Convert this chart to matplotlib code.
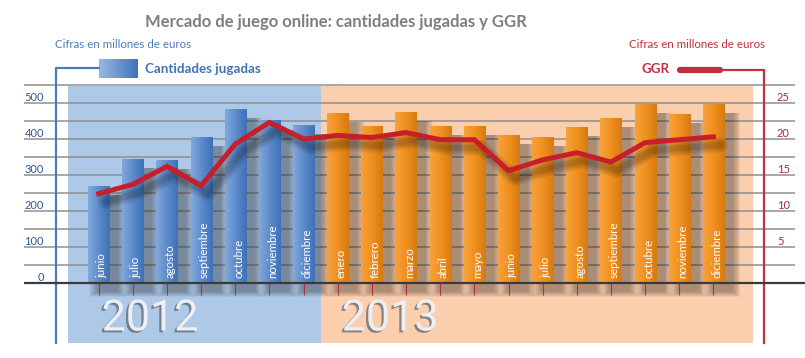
import matplotlib
matplotlib.use('Agg')
import matplotlib.pyplot as plt
import numpy as np
from matplotlib.colors import LinearSegmentedColormap
from matplotlib.patches import Rectangle
import matplotlib.patheffects as pe

plt.rcParams['font.family'] = ['Lato', 'DejaVu Sans']

meses = ['junio', 'julio', 'agosto', 'septiembre', 'octubre', 'noviembre', 'diciembre',
         'enero', 'febrero', 'marzo', 'abril', 'mayo', 'junio', 'julio', 'agosto',
         'septiembre', 'octubre', 'noviembre', 'diciembre']
anios = ['2012', '2013']
n_2012 = 7
cantidades = [269, 344, 341, 405, 481, 450, 437,
              470, 436, 473, 436, 434, 411, 404, 431, 458, 495, 468, 496]
ggr = [12.4, 13.7, 16.2, 13.5, 19.3, 22.3, 20.0,
       20.5, 20.2, 20.9, 19.9, 19.9, 15.6, 17.1, 18.1, 16.8, 19.5, 19.9, 20.3]
ticks_izq = [0, 100, 200, 300, 400, 500]
ticks_der = [5, 10, 15, 20, 25]

azul = '#3f73b8'
rojo = '#c0303e'
gris_titulo = '#7f7f7f'

fig = plt.figure(figsize=(8.05, 3.58), dpi=100)
ax = fig.add_axes([0, 0, 1, 1])
ax.set_axis_off()

# pixel -> datos
px = lambda p: (p - 98.7) / 34.15
py = lambda p: (283 - p) * 50 / 18

x = np.arange(len(cantidades))
w = 0.62

# paneles de fondo
ax.add_patch(Rectangle((px(68), py(343)), px(321) - px(68), py(86) - py(343),
                       color='#aec9e8', lw=0, zorder=0))
ax.add_patch(Rectangle((px(321), py(343)), px(753) - px(321), py(86) - py(343),
                       color='#fbcfae', lw=0, zorder=0))

# rejilla
ax.hlines(np.arange(50, 551, 50), px(24), px(795), color='#8f8f8f', lw=1.1, zorder=1)
ax.hlines(0, px(24), px(805), color='#3a3a3a', lw=1.6, zorder=6)
ax.vlines(x, py(295), 0, color='#b03040', lw=0.8, zorder=6)

for t in ticks_izq:
    ax.text(px(44), t + 16, str(t), ha='right', va='center', fontsize=8, color='#2d5a96')
for t in ticks_der:
    ax.text(px(777), t * 20 + 16, str(t), ha='left', va='center', fontsize=8, color='#b02a3a')

# sombras de barras (difuminadas)
for xi, v in zip(x, cantidades):
    for e in np.linspace(0.0, 0.22, 9):
        ax.add_patch(Rectangle((xi - w / 2 + 0.26 - e, -24 - e * 70), w + 2 * e, v + e * 70,
                               color='black', alpha=0.04, lw=0, zorder=2))

cmap_azul = LinearSegmentedColormap.from_list('az', ['#82a9dc', '#5d8acb', '#3f71b8'])
cmap_nar = LinearSegmentedColormap.from_list('na', ['#f7a23c', '#f0901f', '#d67a12'])
grad = np.linspace(0, 1, 64).reshape(1, -1)
for i, (xi, v) in enumerate(zip(x, cantidades)):
    cm = cmap_azul if i < n_2012 else cmap_nar
    ax.imshow(grad, extent=[xi - w / 2, xi + w / 2, 0, v], aspect='auto', cmap=cm,
              zorder=3, interpolation='bilinear')
    ax.text(xi + 0.1, 14, meses[i], rotation=90, ha='center', va='bottom',
            fontsize=8.3, color='white', zorder=4)

# años
for xc, a in zip([px(150), px(390)], anios):
    ax.text(xc, py(319), a, ha='center', va='center', fontsize=31, color='#eceff4',
            family=['Roboto', 'DejaVu Sans'], zorder=4,
            path_effects=[pe.withSimplePatchShadow(offset=(-1.6, -1.4), shadow_rgbFace='#5a5f68',
                                                   alpha=0.7)])

# textos superiores
ax.text(px(336), py(22), 'Mercado de juego online: cantidades jugadas y GGR', ha='center',
        va='center', fontsize=12, fontweight='bold', color=gris_titulo)
ax.text(px(55), py(45), 'Cifras en millones de euros', ha='left', va='center',
        fontsize=8.3, color='#4a7ebb')
ax.text(px(765), py(45), 'Cifras en millones de euros', ha='right', va='center',
        fontsize=8.3, color=rojo)
ax.text(px(145), py(69), 'Cantidades jugadas', ha='left', va='center', fontsize=9.6,
        fontweight='bold', color=azul)
ax.text(px(670), py(69), 'GGR', ha='right', va='center', fontsize=9.6,
        fontweight='bold', color=rojo)

# leyenda / conectores
cmap_leg = LinearSegmentedColormap.from_list('lg', ['#9ab8e2', '#3f73b8'])
ax.imshow(grad, extent=[px(99), px(137), py(78), py(59)], aspect='auto', cmap=cmap_leg, zorder=3)
ax.plot([px(99), px(56), px(56)], [py(68), py(68), py(343)], color='#4a7ebb', lw=1.6, zorder=5)
ax.plot([px(722), px(764), px(764)], [py(70), py(70), py(343)], color=rojo, lw=1.6, zorder=5)
ax.plot([px(680), px(720)], [py(70), py(70)], color=rojo, lw=4.5, solid_capstyle='round', zorder=5)

ax.set_xlim(px(0), px(805))
ax.set_ylim(py(358), py(0))

# linea GGR en eje derecho
ax2 = ax.twinx()
ax2.set_axis_off()
ax2.set_ylim(py(358) / 20, py(0) / 20)
for lw in [11, 8.5, 6, 4]:
    ax2.plot(x + 0.2, np.array(ggr) - 1.1, color='black', alpha=0.07, lw=lw,
             solid_joinstyle='round', solid_capstyle='round')
ax2.plot(x, ggr, color='#c81e28', lw=3.6, solid_joinstyle='miter')
ax2.set_xlim(px(0), px(805))

fig.savefig('out.png', dpi=100)
